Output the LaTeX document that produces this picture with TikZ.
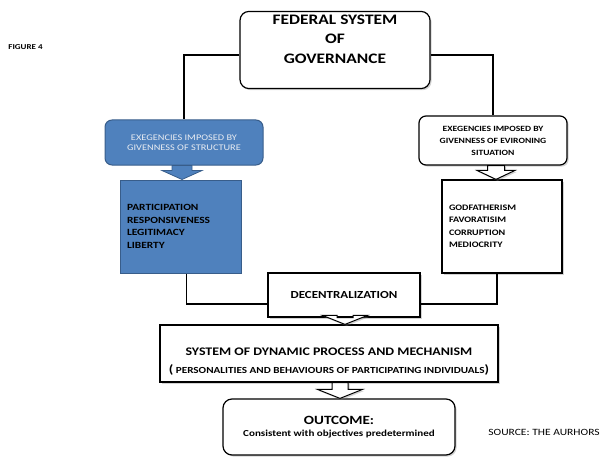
\documentclass[tikz,border=0pt]{standalone}
\usepackage{fontspec}
\setmainfont{Carlito}[FakeStretch=1.2]
\usetikzlibrary{positioning, calc, shadows}

\definecolor{boxblue}{RGB}{79,129,189}
\definecolor{blueedge}{RGB}{56,93,138}
\definecolor{paletext}{RGB}{232,236,242}

\tikzset{
  shade/.style={drop shadow={opacity=0.35, shadow xshift=1.6pt, shadow yshift=-1.6pt}},
  roundbox/.style={draw, line width=1.2pt, rounded corners=9pt, fill=white, shade, align=center},
  plainbox/.style={draw, line width=1.2pt, fill=white, shade, align=center},
  listbox/.style={draw, line width=1.2pt, fill=white, align=left, inner xsep=7pt,
    font=\bfseries\fontsize{8.4}{12.5}\selectfont},
  bluebox/.style={draw=blueedge, line width=1pt, fill=boxblue},
  wire/.style={line width=1.1pt},
  bluearrow/.style={draw=blueedge, fill=boxblue, line width=0.8pt},
  whitearrow/.style={draw, fill=white, line width=1pt, shade},
}

\begin{document}
\begin{tikzpicture}[x=1pt, y=-1pt]
    \useasboundingbox (0,0) rectangle (601,457);

    % Top of the chart
    \node[roundbox, minimum width=190pt, minimum height=76pt, text depth=22pt,
          font=\bfseries\fontsize{14.5}{19.5}\selectfont] (fed) at (335,50)
          {FEDERAL SYSTEM\\OF\\GOVERNANCE};
    \node[font=\bfseries\fontsize{7.5}{8}\selectfont] (fig) at (25.5,47) {FIGURE 4};

    % Two kinds of exegencies
    \node[bluebox, rounded corners=7pt, minimum width=158pt, minimum height=45pt, align=center,
          text=paletext, font=\fontsize{8.6}{10.5}\selectfont] (struct) at (184,142.5)
          {EXEGENCIES IMPOSED BY\\GIVENNESS OF STRUCTURE};
    \node[roundbox, rounded corners=7pt, minimum width=148pt, minimum height=49pt,
          font=\bfseries\fontsize{8}{12}\selectfont] (situ) at (493,140.5)
          {EXEGENCIES IMPOSED BY\\GIVENNESS OF EVIRONING\\SITUATION};

    % What each one brings
    \node[bluebox, align=left, inner xsep=7pt, text width=107pt, minimum height=93pt,
          font=\bfseries\fontsize{9.5}{12.5}\selectfont] (partlist) at (180.5,226.5)
          {PARTICIPATION\\RESPONSIVENESS\\LEGITIMACY\\LIBERTY};
    \node[listbox, shade, text width=106pt, minimum height=93pt] (godlist) at (502,226.5)
          {GODFATHERISM\\FAVORATISIM\\CORRUPTION\\MEDIOCRITY};

    % Lower chain
    \node[plainbox, minimum width=152pt, minimum height=44pt,
          font=\bfseries\fontsize{10.8}{12}\selectfont] (decent) at (344,295) {DECENTRALIZATION};
    \node[plainbox, minimum width=338pt, minimum height=57pt, inner ysep=0pt,
          text height=45pt, text depth=6pt] (dynsys) at (329,353.5)
          {{\bfseries\fontsize{11.6}{14}\selectfont SYSTEM OF DYNAMIC PROCESS AND MECHANISM}\\[6pt]
           {\bfseries\fontsize{9.3}{10}\selectfont{\fontsize{12}{10}\selectfont(} PERSONALITIES AND BEHAVIOURS OF PARTICIPATING INDIVIDUALS{\fontsize{12}{10}\selectfont)}}};
    \node[roundbox, minimum width=232pt, minimum height=56pt] (outcome) at (339,427)
          {{\bfseries\fontsize{12.6}{14}\selectfont OUTCOME:}\\
           {\bfseries\fontsize{9.2}{14}\selectfont Consistent with objectives predetermined}};
    \node[font=\fontsize{9.6}{10}\selectfont] (source) at (544,432) {SOURCE: THE AURHORS};

    % Lines
    \draw[wire] ([yshift=-5pt]fed.west) -| (struct.north);
    \draw[wire] ([yshift=-5pt]fed.east) -| (situ.north);
    \draw[wire] ([xshift=6pt]partlist.south) |- ([yshift=-9pt]decent.west);
    \draw[wire] ([xshift=-5pt]godlist.south) |- ([yshift=-9pt]decent.east);

    % Block arrows
    \foreach \from/\to/\ax/\sh/\hd/\kind in {struct/partlist/182/10/20/bluearrow,
        situ/godlist/496/8.5/19/whitearrow, decent/dynsys/345/8/22.5/whitearrow,
        dynsys/outcome/340/8/22.5/whitearrow}{
      \coordinate (t) at (\ax,0 |- \from.south);
      \coordinate (b) at (\ax,0 |- \to.north);
      \draw[\kind] ($(t)+(-\sh,0)$) -- ($(t)+(\sh,0)$) -- ($(b)+(\sh,-9)$) -- ($(b)+(\hd,-9)$)
        -- (b) -- ($(b)+(-\hd,-9)$) -- ($(b)+(-\sh,-9)$) -- cycle;
    }

\end{tikzpicture}
\end{document}
